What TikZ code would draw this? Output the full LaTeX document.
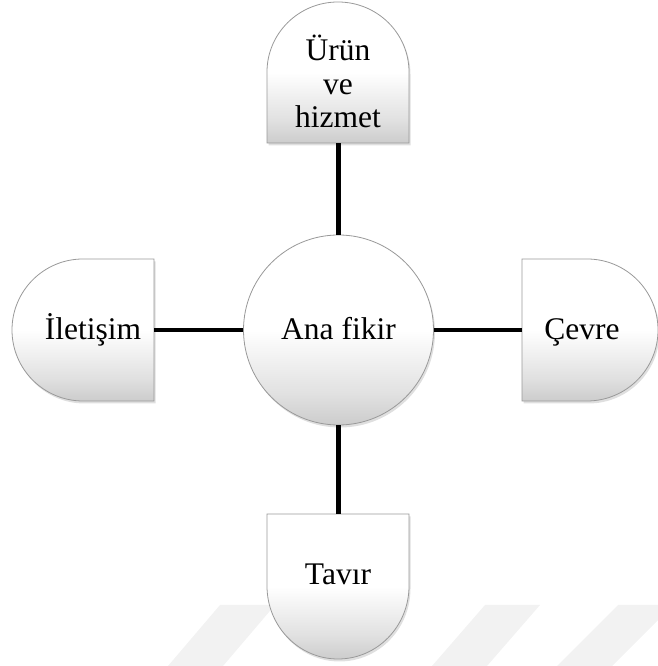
\documentclass[tikz,border=0pt]{standalone}
\usepackage{fontspec}
\setmainfont{Liberation Serif}
\usetikzlibrary{shadows}
\pgfdeclareverticalshading{bevsh}{100bp}{color(0bp)=(black!20); color(25bp)=(black!20); color(33bp)=(black!12); color(50bp)=(white); color(100bp)=(white)}
\tikzset{
 bev/.style={draw=black!40, line width=0.8pt, shading=bevsh,
   drop shadow={opacity=0.25,shadow xshift=1.5pt,shadow yshift=-2.5pt}},
 txt/.style={font=\fontsize{31.5}{33.5}\selectfont, align=center, inner sep=0pt, anchor=base},
 link/.style={line width=4.4pt, draw=black},
 wm/.style={fill=black!5, draw=none}
}
\begin{document}
\begin{tikzpicture}[x=1pt,y=1pt]
\useasboundingbox (0,0) rectangle (657,666);
% faint watermark stripes
\fill[wm] (168,0) -- (220,61) -- (275,61) -- (223,0) -- cycle;
\fill[wm] (432,0) -- (485,61) -- (540,61) -- (487,0) -- cycle;
\fill[wm] (557,0) -- (618,61) -- (673,61) -- (612,0) -- cycle;
% shapes
\path[bev] (267,523) -- (409,523) -- (409,594) arc[start angle=0,end angle=180,x radius=71pt,y radius=70pt] -- cycle;
\path[bev] (267,152) -- (409,152) -- (409,80) arc[start angle=0,end angle=-180,x radius=71pt,y radius=73pt] -- cycle;
\path[bev] (154,407) -- (154,265) -- (83,265) arc[start angle=270,end angle=90,x radius=71pt,y radius=71pt] -- cycle;
\path[bev] (522,407) -- (522,265) -- (587,265) arc[start angle=-90,end angle=90,x radius=71pt,y radius=71pt] -- cycle;
\node[circle, minimum size=190pt, inner sep=0pt, bev] (c) at (338.5,336) {};
% connector ends
\coordinate (tb) at (338.5,523);
\coordinate (lb) at (154,336);
\coordinate (rb) at (522,336);
\coordinate (bb) at (338.5,152);
% texts
\node[txt] (ct) at (338.5,326) {Ana fikir};
\node[txt] (t) at (338,538) {Ürün\\ve\\hizmet};
\node[txt] (l) at (93,326) {İletişim};
\node[txt] (r) at (582,326) {Çevre};
\node[txt] (b) at (338,81) {Tavır};
% connectors
\draw[link] (c) -- (tb);
\draw[link] (c) -- (lb);
\draw[link] (c) -- (rb);
\draw[link] (c) -- (bb);
\end{tikzpicture}
\end{document}
